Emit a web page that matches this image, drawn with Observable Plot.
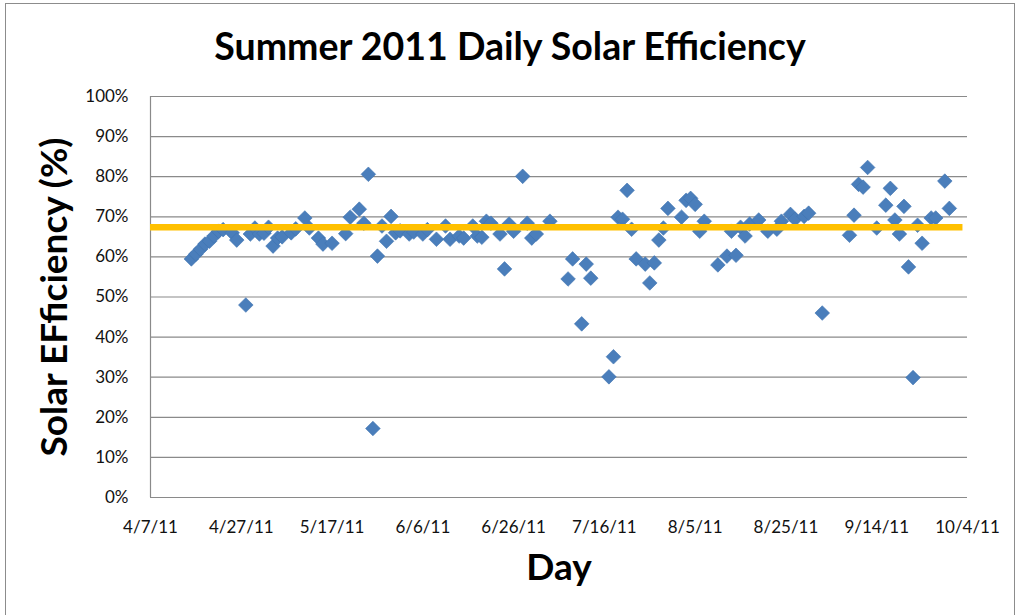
<!DOCTYPE html>
<html>
<head>
<meta charset="utf-8">
<script src="https://cdn.jsdelivr.net/npm/d3@7"></script>
<script src="https://cdn.jsdelivr.net/npm/@observablehq/plot@0.6"></script>
<style>
  html, body { margin: 0; padding: 0; background: #fff; }
  #frame { position: relative; width: 1020px; height: 615px; overflow: hidden; font-family: Lato, "Open Sans", sans-serif; }
  #border { position: absolute; left: 5px; top: 3px; width: 1010px; height: 640px; border: 1px solid #8c8c8c; box-sizing: border-box; pointer-events: none; }
  #title { height: 84px; line-height: 92px; text-align: center; font-weight: bold; font-size: 37.5px; color: #000; }
  svg { display: block; }
</style>
</head>
<body>
<div id="frame">
  <div id="border"></div>
  <div id="title">Summer 2011 Daily Solar Efficiency</div>
  <div id="chart"></div>
</div>
<script>
// ---- data ----
const dates = [
  "4/16/11","4/17/11","4/18/11","4/19/11","4/20/11","4/21/11","4/22/11","4/23/11","4/25/11","4/26/11",
  "4/28/11","4/29/11","4/30/11","5/1/11","5/2/11","5/3/11","5/4/11","5/5/11","5/6/11","5/8/11",
  "5/9/11","5/11/11","5/12/11","5/14/11","5/15/11","5/17/11","5/20/11","5/21/11","5/23/11","5/24/11",
  "5/25/11","5/26/11","5/27/11","5/28/11","5/29/11","5/30/11","5/31/11","6/1/11","6/3/11","6/4/11",
  "6/6/11","6/7/11","6/9/11","6/11/11","6/12/11","6/14/11","6/15/11","6/17/11","6/18/11","6/19/11",
  "6/20/11","6/21/11","6/23/11","6/24/11","6/25/11","6/26/11","6/28/11","6/29/11","6/30/11","7/1/11",
  "7/4/11","7/8/11","7/9/11","7/11/11","7/12/11","7/13/11","7/17/11","7/18/11","7/19/11","7/20/11",
  "7/21/11","7/22/11","7/23/11","7/25/11","7/26/11","7/27/11","7/28/11","7/29/11","7/30/11","8/2/11",
  "8/3/11","8/4/11","8/5/11","8/6/11","8/7/11","8/10/11","8/12/11","8/13/11","8/14/11","8/15/11",
  "8/16/11","8/17/11","8/19/11","8/21/11","8/23/11","8/24/11","8/26/11","8/27/11","8/29/11","8/30/11",
  "9/2/11","9/8/11","9/9/11","9/10/11","9/11/11","9/12/11","9/14/11","9/16/11","9/17/11","9/18/11",
  "9/19/11","9/20/11","9/21/11","9/22/11","9/23/11","9/24/11","9/26/11","9/27/11","9/29/11","9/30/11"
];
const efficiency = [
  59.5,60.7,61.9,63.2,63.9,65.2,66.4,66.8,66.0,64.2,
  48.0,65.7,67.2,65.7,65.9,67.4,62.7,64.7,65.0,66.0,
  67.0,69.7,67.2,64.7,63.2,63.4,65.8,69.9,71.9,68.4,
  80.6,17.2,60.2,67.7,63.9,70.1,66.0,66.5,65.7,66.2,
  65.7,66.8,64.4,67.7,64.4,65.2,64.7,67.7,65.2,64.9,
  68.9,68.4,65.7,57.0,68.2,66.4,80.1,68.4,64.7,65.7,
  68.9,54.5,59.5,43.3,58.2,54.7,30.1,35.1,69.9,69.4,
  76.6,66.9,59.5,58.2,53.5,58.5,64.2,67.2,72.1,69.9,
  74.1,74.6,73.1,66.4,68.9,58.0,60.2,66.4,60.4,67.4,
  65.2,68.2,69.2,66.4,66.9,68.9,70.6,69.4,70.1,70.9,
  46.0,65.4,70.4,78.1,77.4,82.3,67.2,72.9,77.1,69.2,
  65.7,72.6,57.5,29.9,67.9,63.4,69.7,69.7,78.9,72.1
];
const averageEfficiency = 67.4;
const averageSpan = ["4/7/11", "10/3/11"];
const xDomain = ["4/7/11", "10/4/11"];
const xTickLabels = ["4/7/11","4/27/11","5/17/11","6/6/11","6/26/11","7/16/11","8/5/11","8/25/11","9/14/11","10/4/11"];
const yTicks = [0,10,20,30,40,50,60,70,80,90,100];
const titleText = "Summer 2011 Daily Solar Efficiency";
const xTitle = "Day";
const yTitle = "Solar EFficiency (%)";

// ---- build ----
const parse = d3.utcParse("%-m/%-d/%y");
const fmt = d3.utcFormat("%-m/%-d/%y");
const points = dates.map((d, i) => ({date: parse(d), value: efficiency[i]}));
const avgRow = [{x1: parse(averageSpan[0]), x2: parse(averageSpan[1]), y: averageEfficiency}];
document.getElementById("title").textContent = titleText;

const grid = "#8a8a8a";
const chart = Plot.plot({
  width: 1020,
  height: 531,
  marginLeft: 150,
  marginRight: 53,
  marginTop: 12,
  marginBottom: 118,
  style: {fontFamily: "Lato, 'Open Sans', sans-serif", color: "#111", background: "transparent"},
  x: {type: "utc", domain: xDomain.map(parse)},
  y: {domain: [0, 100]},
  marks: [
    Plot.ruleY(yTicks, {stroke: grid, strokeWidth: 1.2}),
    Plot.ruleX([parse(xDomain[0])], {stroke: grid, strokeWidth: 1.2}),
    Plot.axisX(xTickLabels.map(parse), {tickSize: 0, tickPadding: 23, fontSize: 17, tickFormat: fmt, label: null}),
    Plot.axisY(yTicks, {tickSize: 0, tickPadding: 22, fontSize: 17, tickFormat: d => d + "%", label: null}),
    Plot.dot(points, {x: "date", y: "value", symbol: "diamond2", r: 6.6, fill: "#4a7ebb", stroke: "#3f73b0", strokeWidth: 0.6}),
    Plot.ruleY(avgRow, {x1: "x1", x2: "x2", y: "y", stroke: "#ffc000", strokeWidth: 6.5, ariaLabel: "average"}),
    Plot.text([yTitle], {frameAnchor: "left", dx: -95, rotate: -90, textAnchor: "middle", lineAnchor: "middle", fontSize: 37, fontWeight: "bold", fill: "#000", text: d => d, ariaLabel: "ytitle"}),
    Plot.text([xTitle], {frameAnchor: "bottom", dy: 71, lineAnchor: "middle", fontSize: 37, fontWeight: "bold", fill: "#000", text: d => d})
  ]
});
document.getElementById("chart").appendChild(chart);
const avg = chart.querySelector('[aria-label="average"]');
if (avg) avg.style.filter = "drop-shadow(0px 4px 3px rgba(0,0,0,0.45))";
</script>
</body>
</html>
